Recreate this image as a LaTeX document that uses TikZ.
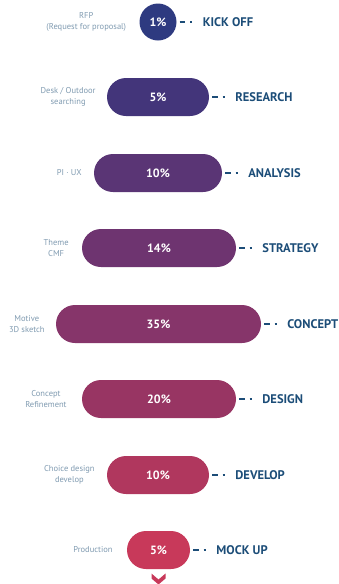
\documentclass[tikz,border=0pt]{standalone}
\usepackage{fontspec}
\setmainfont{PT Sans}
\definecolor{cA}{HTML}{2E3A80}
\definecolor{cB}{HTML}{43357A}
\definecolor{cC}{HTML}{5A3575}
\definecolor{cD}{HTML}{6E3470}
\definecolor{cE}{HTML}{86356A}
\definecolor{cF}{HTML}{983563}
\definecolor{cG}{HTML}{B0375E}
\definecolor{cH}{HTML}{C8395A}
\definecolor{sidec}{HTML}{7F9AB0}
\definecolor{stagec}{HTML}{1C4D78}
\begin{document}
\begin{tikzpicture}[x=1pt,y=-1pt,
  pill/.style={rectangle, rounded corners=19pt, minimum height=38pt, inner sep=0pt, text=white, font=\bfseries\fontsize{12}{13}\selectfont},
  side/.style={text=sidec, align=center, inner sep=0pt, anchor=east, font=\fontsize{8.5}{10.7}\selectfont},
  stage/.style={text=stagec, inner sep=0pt, anchor=west, font=\bfseries\fontsize{12.5}{14}\selectfont},
  conn/.style={draw=stagec, line width=2.6pt, dash pattern=on 5.5pt off 5pt on 1.8pt off 30pt, shorten <=3pt}]
\useasboundingbox (0,0) rectangle (339,584);
% pills
\node[circle, minimum size=37pt, inner sep=0pt, fill=cA, text=white, font=\bfseries\fontsize{12}{13}\selectfont] (p1) at (158,22) {1\%};
\node[pill, fill=cB, minimum width=102pt] (p2) at (158,97) {5\%};
\node[pill, fill=cC, minimum width=128pt] (p3) at (158,173) {10\%};
\node[pill, fill=cD, minimum width=154pt] (p4) at (159,248) {14\%};
\node[pill, fill=cE, minimum width=205pt] (p5) at (158.5,324) {35\%};
\node[pill, fill=cF, minimum width=154pt] (p6) at (159,399) {20\%};
\node[pill, fill=cG, minimum width=102pt] (p7) at (158,475) {10\%};
\node[pill, fill=cH, minimum width=63pt] (p8) at (158.5,550) {5\%};
% side labels
\node[side] (l1) at ([xshift=-13pt]p1.west) {RFP\\(Request for proposal)};
\node[side] (l2) at ([xshift=-11pt]p2.west) {Desk / Outdoor\\searching};
\node[side] (l3) at ([xshift=-12pt]p3.west) {PI · UX};
\node[side] (l4) at ([xshift=-13pt]p4.west) {Theme\\CMF};
\node[side] (l5) at ([xshift=-11pt]p5.west) {Motive\\3D sketch};
\node[side] (l6) at ([xshift=-15pt]p6.west) {Concept\\Refinement};
\node[side] (l7) at ([xshift=-12pt]p7.west) {Choice design\\develop};
\node[side] (l8) at ([xshift=-14pt]p8.west) {Production};
% stage labels
\node[stage] (s1) at ([xshift=26pt]p1.east) {KICK OFF};
\node[stage] (s2) at ([xshift=26pt]p2.east) {RESEARCH};
\node[stage] (s3) at ([xshift=26pt]p3.east) {ANALYSIS};
\node[stage] (s4) at ([xshift=26pt]p4.east) {STRATEGY};
\node[stage] (s5) at ([xshift=26pt]p5.east) {CONCEPT};
\node[stage] (s6) at ([xshift=26pt]p6.east) {DESIGN};
\node[stage] (s7) at ([xshift=26pt]p7.east) {DEVELOP};
\node[stage] (s8) at ([xshift=26pt]p8.east) {MOCK UP};
% connectors
\foreach \i in {1,...,8} {\draw[conn] (p\i.east) -- (s\i.west);}
% chevron
\fill[cH] (151.5,573.5) -- (158.5,579.5) -- (165.5,573.5) -- (165.5,578.5) -- (158.5,584.5) -- (151.5,578.5) -- cycle;
\end{tikzpicture}
\end{document}
